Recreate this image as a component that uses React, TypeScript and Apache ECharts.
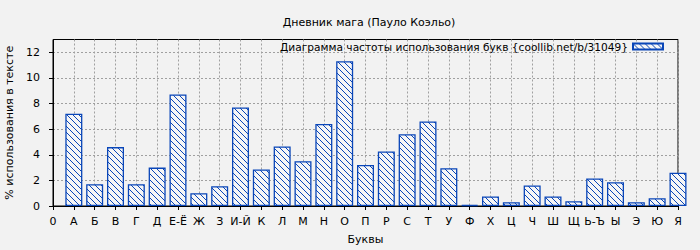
import React, { useEffect, useRef } from "react";
import * as echarts from "echarts";

const titleText = "Дневник мага (Пауло Коэльо)";
const seriesName = "Диаграмма частоты использования букв {coollib.net/b/31049}";
const xAxisName = "Буквы";
const yAxisName = "% использования в тексте";

const xLabels = [
  "0", "А", "Б", "В", "Г", "Д", "Е-Ё", "Ж", "З", "И-Й", "К", "Л", "М", "Н", "О",
  "П", "Р", "С", "Т", "У", "Ф", "Х", "Ц", "Ч", "Ш", "Щ", "Ь-Ъ", "Ы", "Э", "Ю", "Я",
];

const values = [
  7.2, 1.7, 4.6, 1.7, 3.0, 8.7, 1.0, 1.55, 7.7, 2.85, 4.65, 3.5, 6.4, 11.3,
  3.2, 4.25, 5.6, 6.6, 2.95, 0.08, 0.75, 0.3, 1.6, 0.75, 0.37, 2.15, 1.85, 0.3, 0.6, 2.6,
];

const yTicks = [0, 2, 4, 6, 8, 10, 12];

const FONT = "DejaVu Sans";
const BLUE = "#0a46b8";

function makePattern(): HTMLCanvasElement {
  const c = document.createElement("canvas");
  const n = 6;
  c.width = n;
  c.height = n;
  const ctx = c.getContext("2d")!;
  ctx.fillStyle = "#f6f6f6";
  ctx.fillRect(0, 0, n, n);
  ctx.fillStyle = BLUE;
  for (let i = 0; i < n; i++) ctx.fillRect(i, i, 1, 1);
  return c;
}

export default function App() {
  const ref = useRef<HTMLDivElement>(null);
  useEffect(() => {
    if (!ref.current) return;
    const chart = echarts.init(ref.current, null, { renderer: "svg" });
    const pattern = { image: makePattern(), repeat: "repeat" };
    const data = values.map((v, i) => [i + 1, v]);
    chart.setOption({
      animation: false,
      backgroundColor: "#f2f2f2",
      title: {
        text: titleText,
        left: 364,
        textAlign: "center",
        top: 12,
        textStyle: { fontFamily: FONT, fontSize: 11, fontWeight: "normal", color: "#000" },
      },
      legend: {
        right: 36,
        top: 41,
        padding: 0,
        align: "right",
        icon: "rect",
        itemWidth: 30,
        itemHeight: 6,
        textStyle: { fontFamily: FONT, fontSize: 10.6, color: "#000" },
        data: [seriesName],
      },
      grid: {
        left: 53,
        right: 22,
        top: 39.5,
        bottom: 44,
        show: true,
        borderColor: "#000",
        borderWidth: 1,
        backgroundColor: "#f2f2f2",
        containLabel: false,
        outerBoundsMode: "none",
      },
      xAxis: {
        type: "value",
        min: 0,
        max: 30,
        interval: 1,
        name: xAxisName,
        nameLocation: "middle",
        nameGap: 28,
        nameTextStyle: { fontFamily: FONT, fontSize: 11, color: "#000" },
        axisLine: { show: true, lineStyle: { color: "#000", width: 1 } },
        axisTick: { show: true, length: 4, lineStyle: { color: "#000" } },
        axisLabel: {
          margin: 10,
          fontFamily: FONT,
          fontSize: 11,
          color: "#000",
          formatter: (v: number) => xLabels[v] ?? "",
        },
        splitLine: { show: true, lineStyle: { color: "#a0a0a0", type: [2, 2], width: 1 } },
      },
      yAxis: {
        type: "value",
        min: 0,
        max: 13,
        interval: 2,
        name: yAxisName,
        nameLocation: "middle",
        nameGap: 37,
        nameTextStyle: { fontFamily: FONT, fontSize: 11, color: "#000" },
        axisLine: { show: true, lineStyle: { color: "#000", width: 1 } },
        axisTick: { show: true, length: 4, lineStyle: { color: "#000" }, customValues: yTicks },
        axisLabel: {
          margin: 13,
          fontFamily: FONT,
          fontSize: 11,
          color: "#000",
          customValues: yTicks,
        },
        splitLine: { show: true, lineStyle: { color: "#a0a0a0", type: [2, 2], width: 1 } },
      },
      series: [
        {
          name: seriesName,
          type: "bar",
          data,
          barWidth: 17,
          clip: true,
          itemStyle: { color: pattern, borderColor: BLUE, borderWidth: 1.3 },
        },
      ],
    });
    return () => chart.dispose();
  }, []);
  return (
    <div
      ref={ref}
      style={{ position: "fixed", left: 0, top: 0, width: 700, height: 250 }}
    />
  );
}
